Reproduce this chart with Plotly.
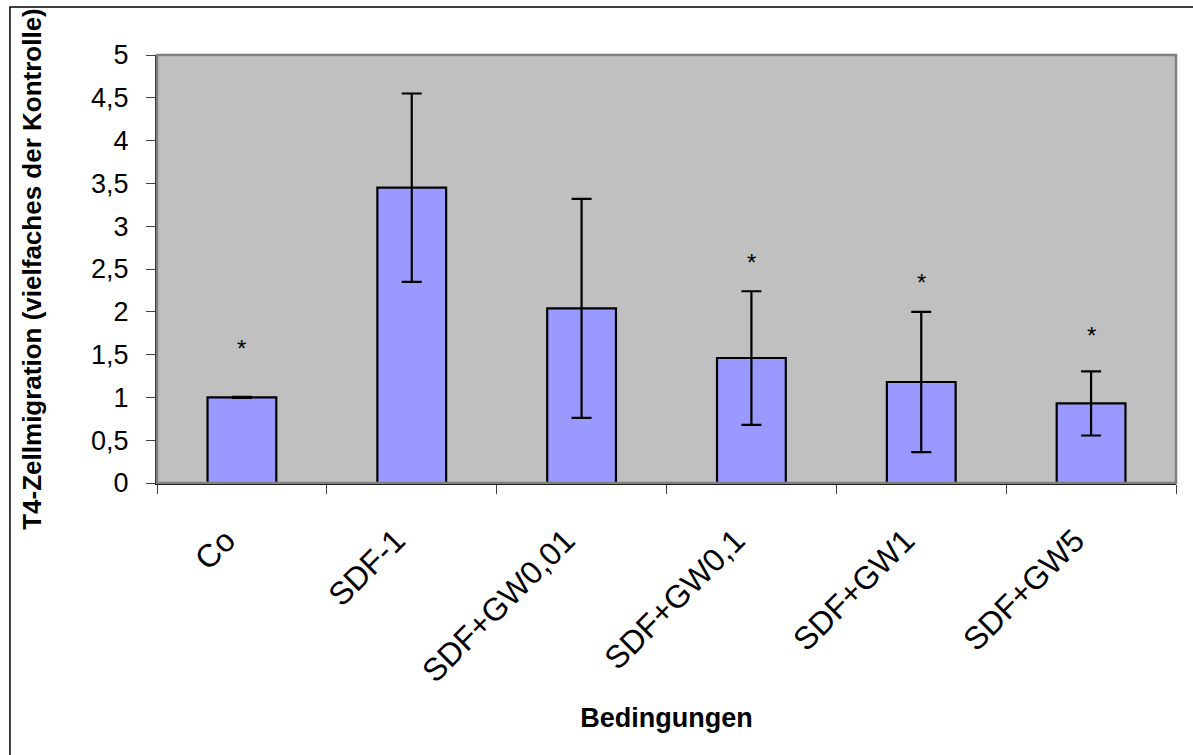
import plotly.graph_objects as go

categories = ["Co", "SDF-1", "SDF+GW0,01", "SDF+GW0,1", "SDF+GW1", "SDF+GW5"]
values = [1.0, 3.45, 2.04, 1.46, 1.18, 0.93]
errors = [0.005, 1.10, 1.28, 0.78, 0.82, 0.375]
star_categories = ["Co", "SDF+GW0,1", "SDF+GW1", "SDF+GW5"]
star_y = [1.64, 2.65, 2.41, 1.79]
y_tickvals = [0, 0.5, 1, 1.5, 2, 2.5, 3, 3.5, 4, 4.5, 5]
y_ticktext = ["0", "0,5", "1", "1,5", "2", "2,5", "3", "3,5", "4", "4,5", "5"]

FONT = "Liberation Sans, Arial, sans-serif"

fig = go.Figure()
fig.add_trace(go.Bar(
    x=categories,
    y=values,
    width=0.405,
    marker=dict(color="#9999FF", line=dict(color="black", width=2.2)),
    error_y=dict(type="data", array=errors, visible=True,
                 color="black", thickness=2.2, width=10),
    showlegend=False,
    hoverinfo="x+y",
))

for c, sy in zip(star_categories, star_y):
    fig.add_annotation(x=c, y=sy, text="*", showarrow=False,
                       xref="x", yref="y", yanchor="middle", yshift=-6,
                       font=dict(family=FONT, size=24, color="black"))

# plot-area border (grey) and outer chart border
fig.add_shape(type="rect", xref="paper", yref="paper", x0=0, x1=1, y0=0, y1=1,
              line=dict(color="#808080", width=2.5), layer="above")
fig.add_shape(type="rect", xref="paper", yref="paper",
              x0=-0.1443, x1=1.2, y0=-1.2, y1=1.1121,
              line=dict(color="black", width=1.5), layer="above")

fig.update_layout(
    width=1193, height=755,
    margin=dict(l=157, r=17, t=55, b=272),
    paper_bgcolor="white",
    plot_bgcolor="#C0C0C0",
    font=dict(family=FONT, color="black"),
    xaxis=dict(
        type="category",
        tickson="boundaries",
        ticks="outside", ticklen=9, tickwidth=1.2, tickcolor="#404040",
        tickangle=-45,
        tickfont=dict(family=FONT, size=32, color="black"),
        ticklabelstandoff=24,
        ticklabelshift=-16,
        showline=True, linecolor="black", linewidth=2,
        showgrid=False, zeroline=False,
        title=dict(text="<b>Bedingungen</b>",
                   font=dict(family=FONT, size=27, color="black"),
                   standoff=20),
    ),
    yaxis=dict(
        range=[0, 5],
        tickvals=y_tickvals, ticktext=y_ticktext,
        ticks="outside", ticklen=9, tickwidth=1.2, tickcolor="#404040",
        tickfont=dict(family=FONT, size=27, color="black"),
        ticklabelstandoff=12,
        showline=True, linecolor="#202020", linewidth=2,
        showgrid=False, zeroline=False,
        title=dict(text="<b>T4-Zellmigration (vielfaches der Kontrolle)</b>",
                   font=dict(family=FONT, size=26, color="black"),
                   standoff=42),
    ),
)

fig.write_html("out.html", post_script="document.body.style.margin='0';",
               config={"displayModeBar": False})
